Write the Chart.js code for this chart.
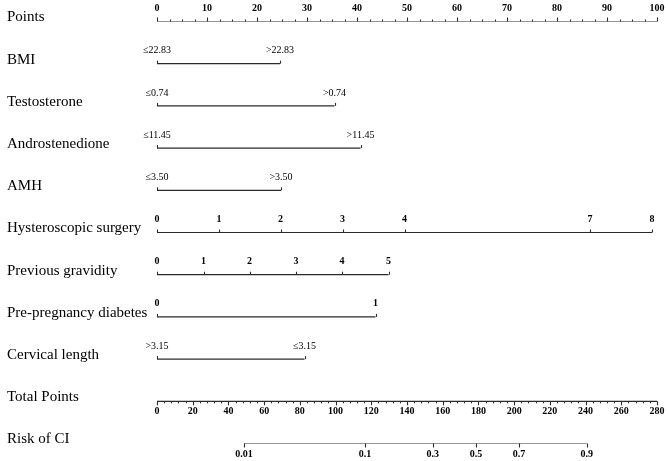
<!DOCTYPE html>
<html>
<head>
<meta charset="utf-8">
<script src="https://cdn.jsdelivr.net/npm/chart.js@4"></script>
<style>
  html, body { margin: 0; padding: 0; background: #fff; }
  #wrap { width: 668px; height: 461px; }
</style>
</head>
<body>
<div id="wrap"><canvas id="nomo"></canvas></div>
<script>
// row names, top to bottom
const rowNames = ['Points', 'BMI', 'Testosterone', 'Androstenedione', 'AMH', 'Hysteroscopic surgery',
  'Previous gravidity', 'Pre-pregnancy diabetes', 'Cervical length', 'Total Points', 'Risk of CI'];

// points scale
const pointsTicks = [0, 10, 20, 30, 40, 50, 60, 70, 80, 90, 100];

// each predictor: level labels and the points they sit at
const bmiLabels = ['≤22.83', '>22.83'];
const bmiPoints = [0, 24.6];
const testoLabels = ['≤0.74', '>0.74'];
const testoPoints = [0, 35.5];
const andoLabels = ['≤11.45', '>11.45'];
const andoPoints = [0, 40.7];
const amhLabels = ['≤3.50', '>3.50'];
const amhPoints = [0, 24.8];
const hysLabels = ['0', '1', '2', '3', '4', '7', '8'];
const hysPoints = [0, 12.4, 24.7, 37.1, 49.5, 86.6, 99];
const gravLabels = ['0', '1', '2', '3', '4', '5'];
const gravPoints = [0, 9.3, 18.5, 27.8, 37, 46.3];
const diabLabels = ['0', '1'];
const diabPoints = [0, 43.7];
const cervLabels = ['>3.15', '≤3.15'];
const cervPoints = [0, 29.5];

// total points and risk
const totalMax = 280;
const totalTicks = [0, 20, 40, 60, 80, 100, 120, 140, 160, 180, 200, 220, 240, 260, 280];
const riskLabels = ['0.01', '0.1', '0.3', '0.5', '0.7', '0.9'];
const riskTotal = [48.7, 116.5, 154.4, 178.6, 202.7, 240.6];

const toPts = tp => tp * 100 / totalMax;

// rows: [row index, positions (points scale), labels, bold labels]
const rows = [
  [1, bmiPoints, bmiLabels, false],
  [2, testoPoints, testoLabels, false],
  [3, andoPoints, andoLabels, false],
  [4, amhPoints, amhLabels, false],
  [5, hysPoints, hysLabels, true],
  [6, gravPoints, gravLabels, true],
  [7, diabPoints, diabLabels, true],
  [8, cervPoints, cervLabels, false]
];

const lineColor = '#2b2b2b';
const serif = '"Liberation Serif", "DejaVu Serif", serif';

function axisLine(rowIdx, from, to) {
  return {
    data: [{ x: from, y: rowIdx }, { x: to, y: rowIdx }],
    showLine: true,
    pointRadius: 0,
    borderColor: lineColor,
    borderWidth: 1.2
  };
}

const datasets = [axisLine(0, 0, 100)];
rows.forEach(r => datasets.push(axisLine(r[0], r[1][0], r[1][r[1].length - 1])));
datasets.push(axisLine(9, 0, toPts(totalMax)));
datasets.push(axisLine(10, toPts(riskTotal[0]), toPts(riskTotal[riskTotal.length - 1])));

const nomoPlugin = {
  id: 'nomoPlugin',
  afterDatasetsDraw(chart) {
    const { ctx, scales: { x, y } } = chart;
    ctx.save();
    ctx.strokeStyle = lineColor;
    ctx.lineWidth = 1.1;
    ctx.fillStyle = '#000';

    function tick(p, row, len, dir) {
      const px = Math.round(x.getPixelForValue(p)) + 0.5;
      const py = y.getPixelForValue(row);
      ctx.beginPath();
      ctx.moveTo(px, py);
      ctx.lineTo(px, py + dir * len);
      ctx.stroke();
    }
    function label(p, row, text, dy, bold) {
      ctx.font = (bold ? 'bold ' : '') + '10px ' + serif;
      ctx.textAlign = 'center';
      ctx.textBaseline = 'middle';
      ctx.fillText(text, x.getPixelForValue(p), y.getPixelForValue(row) + dy);
    }

    // row names
    ctx.font = '15px ' + serif;
    ctx.textAlign = 'left';
    ctx.textBaseline = 'middle';
    rowNames.forEach((n, i) => ctx.fillText(n, 7, y.getPixelForValue(i) - 4));

    // points axis
    for (let p = 0; p <= 100; p += 2.5) tick(p, 0, p % 10 === 0 ? 4 : 2, -1);
    pointsTicks.forEach(p => label(p, 0, String(p), -13.5, true));

    // predictors
    rows.forEach(([ri, pts, labs, bold]) => {
      pts.forEach((p, k) => {
        tick(p, ri, 3, -1);
        label(p, ri, labs[k], -13, bold);
      });
    });

    // total points
    for (let t = 0; t <= totalMax; t += 4) tick(toPts(t), 9, t % 20 === 0 ? 4 : 2, 1);
    totalTicks.forEach(t => label(toPts(t), 9, String(t), 10.5, true));

    // risk
    riskTotal.forEach((t, k) => {
      tick(toPts(t), 10, 4, 1);
      label(toPts(t), 10, riskLabels[k], 11, true);
    });

    ctx.restore();
  }
};

new Chart(document.getElementById('nomo'), {
  type: 'scatter',
  data: { datasets: datasets },
  options: {
    responsive: true,
    maintainAspectRatio: false,
    animation: false,
    layout: { padding: { left: 157, right: 11, top: 21.5, bottom: 17.5 } },
    plugins: { legend: { display: false }, tooltip: { enabled: false } },
    scales: {
      x: { type: 'linear', min: 0, max: 100, display: false },
      y: { type: 'linear', min: 0, max: 10, reverse: true, display: false }
    }
  },
  plugins: [nomoPlugin]
});
</script>
</body>
</html>
